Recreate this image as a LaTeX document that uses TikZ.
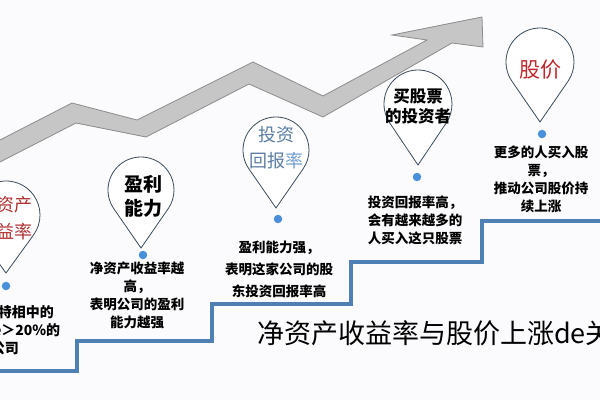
\documentclass[tikz,border=0pt]{standalone}
\usepackage{fontspec}
\newfontfamily\cjk{Noto Sans CJK SC}
\usetikzlibrary{calc}
\definecolor{bgc}{RGB}{251,251,253}
\definecolor{stairc}{RGB}{78,128,180}
\definecolor{arrowfill}{RGB}{198,198,198}
\definecolor{arrowline}{RGB}{140,140,140}
\definecolor{pinc}{RGB}{60,75,92}
\definecolor{dotc}{RGB}{74,143,220}
\definecolor{redA}{RGB}{178,50,50}
\definecolor{redB}{RGB}{192,38,44}
\definecolor{blueT}{RGB}{92,126,164}
\definecolor{blueL}{RGB}{112,160,210}
\tikzset{
  pinline/.style={draw=pinc, line width=0.8pt, fill=white},
  pindot/.style={circle, fill=dotc, inner sep=0pt, minimum size=8.5pt},
  desc/.style={align=center, inner sep=0pt, font=\cjk\bfseries\fontsize{13.5}{18}\selectfont, text=black},
  pinlab/.style={align=center, inner sep=0pt, font=\cjk\fontsize{18}{26}\selectfont},
  stairline/.style={draw=stairc, line width=3.2pt},
}
\newcommand{\mypin}[4]{%
  \pgfmathsetmacro\pinang{acos(#3/(#4-#2))}%
  \draw[pinline] ($(#1,#2)+({90+\pinang}:#3)$) arc[start angle={90+\pinang}, end angle={450-\pinang}, radius=#3] -- (#1,#4) -- cycle;%
}
\begin{document}
\begin{tikzpicture}[x=1pt,y=-1pt]
\path[use as bounding box, fill=bgc] (0,0) rectangle (600,400);
\clip (0,0) rectangle (600,400);
% rising arrow
\draw[fill=arrowfill, draw=arrowline, line width=0.8pt, line join=miter]
  (-2,141) -- (72,103) -- (137,120) -- (253,62) -- (323,96) -- (427,40)
  -- (392,35) -- (482,17) -- (483,47) -- (452,43)
  -- (323,117) -- (249,84) -- (146,137) -- (76,123) -- (-2,163) -- cycle;
% stairs
\draw[stairline] (-5,371) -- (77,371) -- (77,341) -- (212,341) -- (212,304)
  -- (351,304) -- (351,262) -- (482,262) -- (482,221) -- (605,221);
% pins
\mypin{6}{215}{34}{273}
\mypin{141}{190}{33}{248}
\mypin{276}{150}{33}{208}
\mypin{418}{104}{34}{165}
\mypin{540}{62}{34}{122}
% dots
\node[pindot] (dot1) at (6,286) {};
\node[pindot] (dot2) at (143,255) {};
\node[pindot] (dot3) at (278,219) {};
\node[pindot] (dot4) at (417,177) {};
\node[pindot] (dot5) at (542,134) {};
% pin labels
\node[pinlab, text=redA] (lab1) at (6,218) {净资产\\[1pt]收益率};
\node[pinlab, font=\cjk\bfseries\fontsize{19}{24}\selectfont] (lab2) at (143,196) {盈利\\能力};
\node[pinlab, text=blueT] (lab3) at (276,148) {投资\\回报{\color{blueL}率}};
\node[pinlab, font=\cjk\bfseries\fontsize{16.5}{20}\selectfont] (lab4) at (418,106) {买股票\\的投资者};
\node[pinlab, text=redB, font=\cjk\fontsize{21}{26}\selectfont] (lab5) at (540,70) {股价};
% descriptions
\node[desc, font=\cjk\bfseries\fontsize{14}{18}\selectfont] (desc1) at (5,330) {被巴菲特相中的\\都是roe＞20\%的\\公司};
\node[desc] (desc2) at (137,295) {净资产收益率越\\高，\\表明公司的盈利\\能力越强};
\node[desc, font=\cjk\bfseries\fontsize{13.5}{22}\selectfont] (desc3) at (279,269) {盈利能力强，\\表明这家公司的股\\东投资回报率高};
\node[desc] (desc4) at (415,220) {投资回报率高，\\会有越来越多的\\人买入这只股票};
\node[desc] (desc5) at (541,179) {更多的人买入股\\票，\\推动公司股价持\\续上涨};
% title
\node[anchor=west, inner sep=0pt, font=\cjk\fontsize{27}{30}\selectfont] (title) at (257,333) {净资产收益率与股价上涨de关系};
\end{tikzpicture}
\end{document}
